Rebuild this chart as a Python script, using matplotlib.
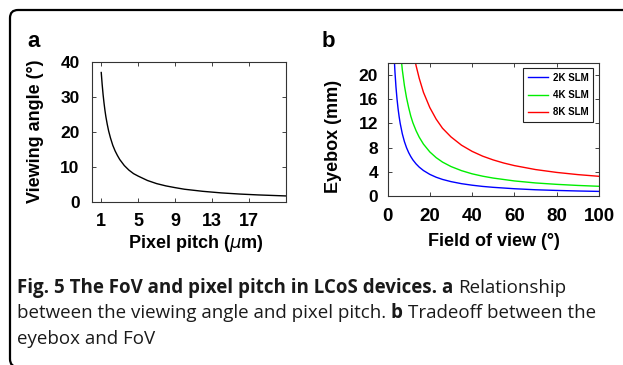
import matplotlib
matplotlib.use("Agg")
import matplotlib.pyplot as plt
from matplotlib.patches import FancyBboxPatch
from matplotlib.transforms import IdentityTransform

# ── data ────────────────────────────────────────────────
PITCH = [1, 1.1, 1.2, 1.3, 1.4, 1.5, 1.65, 1.8, 2, 2.25, 2.5, 2.75, 3, 3.5, 4,
         4.5, 5, 6, 7, 8, 9, 10, 12, 14, 16, 18, 21]
ANGLE = [37.0, 33.6, 30.7, 28.3, 26.2, 24.4, 22.2, 20.3, 18.3, 16.2, 14.6, 13.3,
         12.15, 10.4, 9.1, 8.1, 7.4, 6.15, 5.25, 4.6, 4.1, 3.65, 3.05, 2.6, 2.27,
         2.02, 1.73]
PITCH_TICKS = [1, 5, 9, 13, 17]
ANGLE_TICKS = [0, 10, 20, 30, 40]

FOV_2K = [3, 3.5, 4, 4.5, 5, 5.5, 6, 7, 8, 9, 10, 11, 12, 13.5, 15, 17, 20, 23,
          26, 30, 35, 40, 45, 50, 60, 70, 80, 90, 100]
EYE_2K = [24.0, 20.6, 18.0, 16.0, 14.4, 13.1, 12.0, 10.29, 9.0, 8.0, 7.2, 6.55,
          6.0, 5.34, 4.81, 4.25, 3.62, 3.15, 2.79, 2.43, 2.09, 1.84, 1.64, 1.49,
          1.26, 1.09, 0.98, 0.89, 0.82]
FOV_4K = [6, 7, 8, 9, 10, 11, 12, 13.5, 15, 17, 20, 23, 26, 30, 35, 40, 45, 50,
          60, 70, 80, 90, 100]
EYE_4K = [24.3, 20.8, 18.2, 16.2, 14.6, 13.2, 12.1, 10.8, 9.73, 8.59, 7.31, 6.37,
          5.64, 4.91, 4.23, 3.71, 3.32, 3.01, 2.54, 2.21, 1.98, 1.80, 1.66]
FOV_8K = [12, 13.5, 15, 17, 20, 23, 26, 30, 35, 40, 45, 50, 55, 60, 70, 80, 90, 100]
EYE_8K = [24.2, 21.5, 19.4, 17.1, 14.6, 12.7, 11.2, 9.78, 8.41, 7.40, 6.61, 5.99,
          5.48, 5.06, 4.41, 3.94, 3.58, 3.30]
FOV_TICKS = [0, 20, 40, 60, 80, 100]
EYE_TICKS = [0, 4, 8, 12, 16, 20]

SERIES = [("2K SLM", FOV_2K, EYE_2K, "#0000ff"),
          ("4K SLM", FOV_4K, EYE_4K, "#00ee00"),
          ("8K SLM", FOV_8K, EYE_8K, "#ff0000")]

CAPTION = [
    [("Fig. 5 The FoV and pixel pitch in LCoS devices. a", "bold"), ("Relationship", "normal")],
    [("between the viewing angle and pixel pitch.", "normal"), ("b", "bold"),
     ("Tradeoff between the", "normal")],
    [("eyebox and FoV", "normal")],
]

W, H = 623, 365
FONT = "Liberation Sans"

fig = plt.figure(figsize=(W / 100, H / 100), dpi=100)
fig.patch.set_facecolor("white")


def px_rect(l, t, r, b):
    return [l / W, 1 - b / H, (r - l) / W, (b - t) / H]


def style_axes(ax, xsize, ysize, xpad, ypad):
    ax.tick_params(direction="in", length=3, width=0.6, top=True, right=True,
                   colors="#222222")
    ax.tick_params(axis="x", labelsize=xsize, pad=xpad)
    ax.tick_params(axis="y", labelsize=ysize, pad=ypad)
    for lab in ax.get_xticklabels() + ax.get_yticklabels():
        lab.set_fontweight("bold")
        lab.set_family(FONT)
        lab.set_color("black")
    for sp in ax.spines.values():
        sp.set_linewidth(0.8)
        sp.set_color("#333333")


# ── panel a ────────────────────────────────────────────
ax1 = fig.add_axes(px_rect(92, 62, 286, 202))
ax1.plot(PITCH, ANGLE, color="black", lw=1.0)
ax1.set_xlim(0, 21)
ax1.set_ylim(0, 40)
ax1.set_xticks(PITCH_TICKS)
ax1.set_yticks(ANGLE_TICKS)
style_axes(ax1, 13, 12.5, 8, 9)
ax1.set_xlabel(r"Pixel pitch ($\mu$m)", fontsize=13, fontweight="bold", family=FONT)
ax1.set_ylabel("Viewing angle (°)", fontsize=13, fontweight="bold", family=FONT)
ax1.xaxis.set_label_coords(0.536, -0.221)
ax1.yaxis.set_label_coords(-0.246, 0.504)

# ── panel b ────────────────────────────────────────────
ax2 = fig.add_axes(px_rect(387.5, 62.5, 599, 196.4))
for name, fov, eye, col in SERIES:
    ax2.plot(fov, eye, color=col, lw=1.0, label=name)
ax2.set_xlim(0, 100)
ax2.set_ylim(0, 22)
ax2.set_xticks(FOV_TICKS)
ax2.set_yticks(EYE_TICKS)
style_axes(ax2, 13.5, 12.5, 8.3, 6.8)
ax2.set_xlabel("Field of view (°)", fontsize=13, fontweight="bold", family=FONT)
ax2.set_ylabel("Eyebox (mm)", fontsize=13, fontweight="bold", family=FONT)
ax2.xaxis.set_label_coords(0.501, -0.273)
ax2.yaxis.set_label_coords(-0.215, 0.45)
leg = ax2.legend(loc="upper right", prop=dict(family=FONT, weight="bold", size=7),
                 fancybox=False, edgecolor="#222222", framealpha=1,
                 handlelength=2.1, handletextpad=0.5, labelspacing=0.75,
                 borderpad=0.45, borderaxespad=0.6)
leg.get_frame().set_linewidth(0.8)

# ── panel letters ──────────────────────────────────────
fig.text(27 / W, 1 - 47 / H, "a", fontsize=16, fontweight="bold", family=FONT,
         va="baseline")
fig.text(322 / W, 1 - 47 / H, "b", fontsize=16, fontweight="bold", family=FONT,
         va="baseline")

# ── rounded frame (runs off the right / bottom edge) ─────
frame = FancyBboxPatch((10, -2), 650, H - 10 + 2,
                       boxstyle="round,pad=0,rounding_size=8",
                       transform=IdentityTransform(), facecolor="none",
                       edgecolor="black", linewidth=1.6)
fig.add_artist(frame)

# ── caption ────────────────────────────────────────────
r = fig.canvas.get_renderer()
CAP_FONT = "Open Sans"
CAP_SIZE = 13.5
probe1 = fig.text(0, 0, "x x", fontsize=CAP_SIZE, family=CAP_FONT)
probe2 = fig.text(0, 0, "xx", fontsize=CAP_SIZE, family=CAP_FONT)
space_w = probe1.get_window_extent(r).width - probe2.get_window_extent(r).width
probe1.remove()
probe2.remove()

for i, line in enumerate(CAPTION):
    x = 17
    y = 293 + i * 25.5
    for txt, w in line:
        t = fig.text(x / W, 1 - y / H, txt, fontsize=CAP_SIZE, family=CAP_FONT,
                     fontweight=w, color="#1a1a1a", va="baseline")
        x += t.get_window_extent(r).width + space_w

fig.savefig("out.png", dpi=100)
